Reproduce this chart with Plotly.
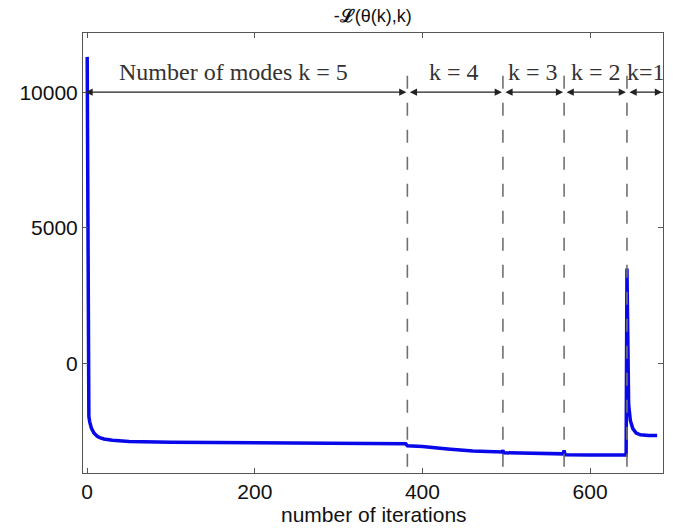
import plotly.graph_objects as go

# ---- data ----
iterations = [0, 1, 2, 3, 5, 8, 10, 12, 15, 20, 30, 50, 100, 200, 300, 380, 382, 400, 430,
              460, 495, 496, 497, 530, 568, 569, 570, 600, 643, 644, 646, 648, 651, 655, 660,
              670, 680]
neg_loglik = [11300, -1700, -1950, -2150, -2380, -2560, -2630, -2680, -2730, -2780, -2830,
              -2870, -2900, -2930, -2950, -2960, -3030, -3060, -3150, -3220, -3260, -3200,
              -3290, -3310, -3330, -3200, -3360, -3370, -3370, 3500, -1500, -2100, -2400,
              -2560, -2630, -2650, -2650]
mode_boundaries = [382, 496, 569, 644]
segment_labels = ["Number of modes k = 5", "k = 4", "k = 3", "k = 2", "k=1"]
label_x = [175, 438, 532, 607, 667]
x_ticks = [0, 200, 400, 600]
y_ticks = [0, 5000, 10000]
y_tick_text = ["0", "5000", "10000"]

x_range = [-5, 687]
y_range = [-4035, 12180]
arrow_y = 10000
label_y = 10740
dash_top = 10600

fig = go.Figure()
fig.add_trace(go.Scatter(x=iterations, y=neg_loglik, mode="lines",
                         line=dict(color="#0808e8", width=3.5), showlegend=False,
                         hoverinfo="skip"))

# dashed boundaries (drawn top-down so the pattern starts with a dash at the top)
for b in mode_boundaries:
    fig.add_shape(type="line", x0=b, x1=b, y0=dash_top, y1=y_range[0], xref="x", yref="y",
                  line=dict(color="#707070", width=1.6, dash="13px,14px"))

# double-headed arrows
edges = [x_range[0]] + mode_boundaries + [x_range[1]]
for a, b in zip(edges[:-1], edges[1:]):
    fig.add_annotation(x=b, y=arrow_y, ax=a, ay=arrow_y, axref="x", ayref="y",
                       xref="x", yref="y", text="", showarrow=True,
                       arrowhead=2, arrowside="end+start", arrowsize=1.2, arrowwidth=1.2,
                       arrowcolor="#222", standoff=1, startstandoff=1)

for lbl, lx in zip(segment_labels, label_x):
    fig.add_annotation(x=lx, y=label_y, text=lbl, showarrow=False, xref="x", yref="y",
                       font=dict(family="Liberation Serif", size=24, color="#333"))

# x-axis title as annotation (keeps plot area fixed)
fig.add_annotation(text="number of iterations", xref="paper", yref="paper",
                   x=0.502, y=-0.095, xanchor="center", yanchor="middle", showarrow=False,
                   font=dict(size=21, family="Liberation Sans", color="#111"))

fig.update_layout(
    width=674, height=529,
    margin=dict(l=83, r=11, t=33, b=56, autoexpand=False),
    paper_bgcolor="white", plot_bgcolor="white",
    title=dict(text="-<b>ℒ</b>(θ(k),k)", x=0.553, xanchor="center", y=0.97,
               yanchor="middle", font=dict(family="Liberation Sans", size=18, color="#111")),
    font=dict(family="Liberation Sans", color="#111"),
)
fig.update_xaxes(range=x_range, tickvals=x_ticks, ticks="inside", ticklen=5,
                 tickcolor="#555", showline=True, linecolor="#555", linewidth=1,
                 mirror="allticks", showgrid=False, zeroline=False, automargin=False,
                 tickfont=dict(size=21, family="Liberation Sans", color="#111"))
fig.update_yaxes(range=y_range, tickvals=y_ticks, ticktext=y_tick_text, ticks="inside",
                 ticklen=5, tickcolor="#555", showline=True, linecolor="#555", linewidth=1,
                 mirror="allticks", showgrid=False, zeroline=False, automargin=False,
                 tickfont=dict(size=21, family="Liberation Sans", color="#111"))

fig.write_html("out.html")
